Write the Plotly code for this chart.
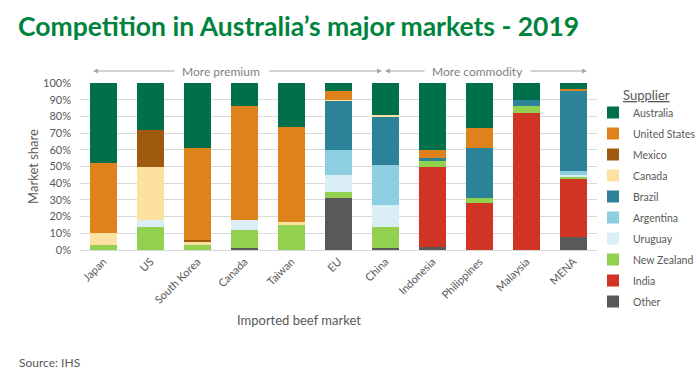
import plotly.graph_objects as go

markets = ["Japan", "US", "South Korea", "Canada", "Taiwan", "EU", "China",
           "Indonesia", "Philippines", "Malaysia", "MENA"]

# shares (%) by supplier, bottom of stack first
other       = [0, 0, 0, 1, 0, 31, 1, 2, 0, 0, 8]
india       = [0, 0, 0, 0, 0, 0, 0, 48, 28, 82, 35]
new_zealand = [3, 14, 3, 11, 15, 3.5, 13, 3, 3, 4, 1]
uruguay     = [0, 4, 0, 6, 0, 10.5, 13, 0, 0, 0, 1]
argentina   = [0, 0, 0, 0, 0, 15, 24, 0, 0, 0, 2.5]
brazil      = [0, 0, 0, 0, 0, 29.5, 29, 2, 30, 4, 47.5]
canada      = [7, 32, 1.5, 0, 1.5, 0.5, 1, 0, 0, 0, 0]
mexico      = [0, 22, 1.5, 0, 0, 0, 0, 0, 0, 0, 0]
united_states = [42, 0, 55, 68, 57, 5.5, 0, 5, 12, 0, 1.5]
australia   = [48, 28, 39, 14, 26.5, 4.5, 19, 40, 27, 10, 3.5]

series = [
    ("Other", other, "#595959"),
    ("India", india, "#CF3424"),
    ("New Zealand", new_zealand, "#92D050"),
    ("Uruguay", uruguay, "#DAEFF5"),
    ("Argentina", argentina, "#8DCFE0"),
    ("Brazil", brazil, "#2B8299"),
    ("Canada", canada, "#FDE1A0"),
    ("Mexico", mexico, "#A05A10"),
    ("United States", united_states, "#DE831B"),
    ("Australia", australia, "#00704A"),
]

FONT = "Lato, 'Open Sans', sans-serif"
GREY = "#595959"

fig = go.Figure()
n = len(series)
for i, (name, vals, col) in enumerate(series):
    fig.add_trace(go.Bar(
        x=markets, y=[v / 100 for v in vals], name=name,
        legendgroup=name, legendrank=n - i,
        marker=dict(color=col, line=dict(width=0)),
    ))

# pixel helpers for annotation placement (relative to plot area)
FW, FH = 700, 373
L, R, T, B = 80, 103, 83, 123
W, H = FW - L - R, FH - T - B
def px(x):
    return (x - L) / W
def py(y):
    return (FH - B - y) / H

XD, YD = "x domain", "y domain"
ann = []
line_y = py(71)
arrow_color = "#A6A6A6"
# arrows: (head_x, tail_x)
for head, tail in [(93, 176), (382, 268), (385, 426), (587, 529)]:
    ann.append(dict(x=px(head), y=line_y, ax=px(tail), ay=line_y,
                    xref=XD, yref=YD, axref=XD, ayref=YD,
                    showarrow=True, arrowhead=2, arrowsize=1, arrowwidth=1,
                    arrowcolor=arrow_color, text=""))

def label(x, y, text, size, color=GREY, xanchor="center"):
    ann.append(dict(x=px(x), y=py(y), xref=XD, yref=YD, text=text,
                    xanchor=xanchor, yanchor="middle", showarrow=False,
                    font=dict(family=FONT, size=size, color=color)))

label(221, 71, "More premium", 12, "#7F7F7F")
label(477, 71, "More commodity", 12, "#7F7F7F")
label(299, 320, "Imported beef market", 13)
label(17, 362, "Source: IHS", 12, xanchor="left")
label(621, 95, "<u>Supplier</u>", 13, xanchor="left")

fig.update_layout(
    width=FW, height=FH,
    margin=dict(l=L, r=R, t=T, b=B, autoexpand=False),
    paper_bgcolor="white", plot_bgcolor="white",
    barmode="stack", bargap=0.43,
    title=dict(text="<b>Competition in Australia\u2019s major markets - 2019</b>",
               x=18 / FW, xanchor="left", y=1 - 27 / FH, yanchor="middle",
               font=dict(family=FONT, size=26.5, color="#00843D")),
    font=dict(family=FONT, color=GREY),
    showlegend=True,
    legend=dict(xref="container", yref="container",
                x=593 / FW, xanchor="left", y=1 - 98 / FH, yanchor="top",
                traceorder="grouped", tracegroupgap=2, maxheight=300,
                font=dict(family=FONT, size=10.5, color=GREY),
                bgcolor="rgba(0,0,0,0)", itemclick=False),
    annotations=ann,
    xaxis=dict(tickangle=-45, tickfont=dict(size=11, color=GREY),
               showline=True, linecolor="#D9D9D9", linewidth=1, ticks=""),
    yaxis=dict(range=[0, 1], dtick=0.1, tickformat=".0%",
               gridcolor="#D9D9D9", gridwidth=1, zeroline=False, showline=False,
               tickfont=dict(size=11, color=GREY), ticklabelstandoff=8,
               title=dict(text="Market share", font=dict(size=13, color=GREY), standoff=1)),
)

fig.write_html("out.html", config={"displayModeBar": False},
               post_script="document.body.style.margin='0';")
